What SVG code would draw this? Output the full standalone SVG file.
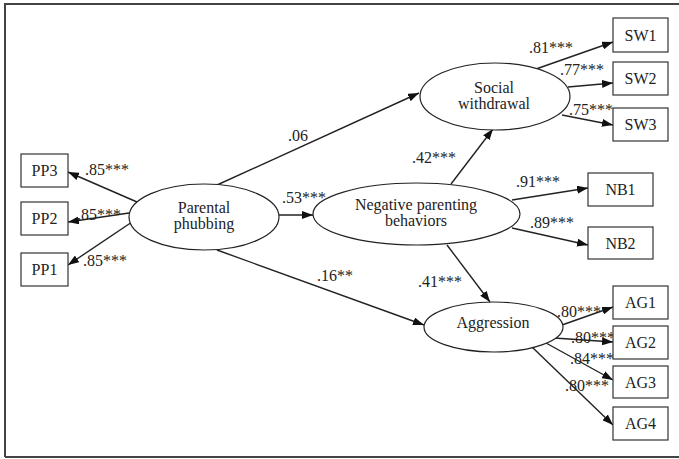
<svg xmlns="http://www.w3.org/2000/svg" width="679" height="459" viewBox="0 0 679 459" font-family="'Liberation Serif', 'DejaVu Serif', serif">
<defs>
<style>
text{font-family:'Liberation Serif','DejaVu Serif',serif;font-size:16px;fill:#222}
.c{text-anchor:middle}
.box{fill:#fff;stroke:#333;stroke-width:1.2}
.ell{fill:#fff;stroke:#222;stroke-width:1.2}
.ln{stroke:#222;stroke-width:1.4;fill:none;marker-end:url(#ah)}
</style>
<marker id="ah" viewBox="0 0 11 8" refX="11" refY="4" markerWidth="11" markerHeight="8" markerUnits="userSpaceOnUse" orient="auto">
<path d="M0,0 L11,4 L0,8 Z" fill="#111"/>
</marker>
</defs>
<rect x="0" y="0" width="679" height="459" fill="#fff"/>
<path d="M5,457 L5,4 L682,4 M5,457 L682,457" fill="none" stroke="#444" stroke-width="2"/>

<g id="connectors">
<line class="ln" x1="137" y1="202" x2="68" y2="172"/>
<line class="ln" x1="129" y1="213" x2="68" y2="222"/>
<line class="ln" x1="132" y1="222" x2="68" y2="265"/>
<line class="ln" x1="217" y1="185" x2="419" y2="93"/>
<line class="ln" x1="279" y1="215" x2="313" y2="215"/>
<line class="ln" x1="217" y1="250" x2="424" y2="325"/>
<line class="ln" x1="451" y1="184" x2="493" y2="129"/>
<line class="ln" x1="447" y1="245" x2="490" y2="302"/>
<line class="ln" x1="536" y1="69" x2="613" y2="42"/>
<line class="ln" x1="568" y1="87" x2="613" y2="83"/>
<line class="ln" x1="562" y1="115" x2="613" y2="125"/>
<line class="ln" x1="512" y1="200" x2="588" y2="188"/>
<line class="ln" x1="512" y1="228" x2="588" y2="245"/>
<line class="ln" x1="562" y1="325" x2="613" y2="307"/>
<line class="ln" x1="554" y1="338" x2="613" y2="342"/>
<line class="ln" x1="546" y1="343" x2="613" y2="380"/>
<line class="ln" x1="532" y1="347" x2="613" y2="425"/>
</g>

<g id="labels">
<text x="85" y="175">.85***</text>
<text x="77" y="220">.85***</text>
<text x="83" y="266">.85***</text>
<text x="288" y="141">.06</text>
<text x="282" y="203">.53***</text>
<text x="317" y="281">.16**</text>
<text x="412" y="163">.42***</text>
<text x="418" y="287">.41***</text>
<text x="529" y="53">.81***</text>
<text x="560" y="75">.77***</text>
<text x="569" y="115">.75***</text>
<text x="516" y="187">.91***</text>
<text x="530" y="228">.89***</text>
<text x="557" y="317">.80***</text>
<text x="571" y="343">.80***</text>
<text x="570" y="364">.84***</text>
<text x="565" y="391">.80***</text>
</g>

<g id="PP3"><rect class="box" x="21" y="154" width="47" height="33"/><text class="c" x="44.5" y="176">PP3</text></g>
<g id="PP2"><rect class="box" x="21" y="202" width="47" height="33"/><text class="c" x="44.5" y="224">PP2</text></g>
<g id="PP1"><rect class="box" x="21" y="253" width="47" height="33"/><text class="c" x="44.5" y="275">PP1</text></g>

<g id="parental-phubbing"><ellipse class="ell" cx="204" cy="217" rx="75" ry="33"/><text class="c" x="204" y="213">Parental</text><text class="c" x="204" y="229">phubbing</text></g>
<g id="social-withdrawal"><ellipse class="ell" cx="495" cy="96.5" rx="75" ry="33.5"/><text class="c" x="494" y="93">Social</text><text class="c" x="494" y="109">withdrawal</text></g>
<g id="negative-parenting"><ellipse class="ell" cx="416.5" cy="214" rx="103.5" ry="31"/><text class="c" x="416" y="210">Negative parenting</text><text class="c" x="416" y="226">behaviors</text></g>
<g id="aggression"><ellipse class="ell" cx="493.5" cy="327" rx="69.5" ry="25"/><text class="c" x="493" y="328">Aggression</text></g>

<g id="SW1"><rect class="box" x="613" y="18" width="55" height="34"/><text class="c" x="640.5" y="41">SW1</text></g>
<g id="SW2"><rect class="box" x="613" y="62" width="55" height="33"/><text class="c" x="640.5" y="84">SW2</text></g>
<g id="SW3"><rect class="box" x="613" y="108" width="55" height="33"/><text class="c" x="640.5" y="130">SW3</text></g>
<g id="NB1"><rect class="box" x="588" y="173" width="65" height="33"/><text class="c" x="620.5" y="195">NB1</text></g>
<g id="NB2"><rect class="box" x="588" y="227" width="65" height="32"/><text class="c" x="620.5" y="249">NB2</text></g>
<g id="AG1"><rect class="box" x="613" y="286" width="55" height="33"/><text class="c" x="640.5" y="308">AG1</text></g>
<g id="AG2"><rect class="box" x="613" y="326" width="55" height="33"/><text class="c" x="640.5" y="348">AG2</text></g>
<g id="AG3"><rect class="box" x="613" y="366" width="55" height="32"/><text class="c" x="640.5" y="388">AG3</text></g>
<g id="AG4"><rect class="box" x="613" y="407" width="55" height="33"/><text class="c" x="640.5" y="429">AG4</text></g>
</svg>
